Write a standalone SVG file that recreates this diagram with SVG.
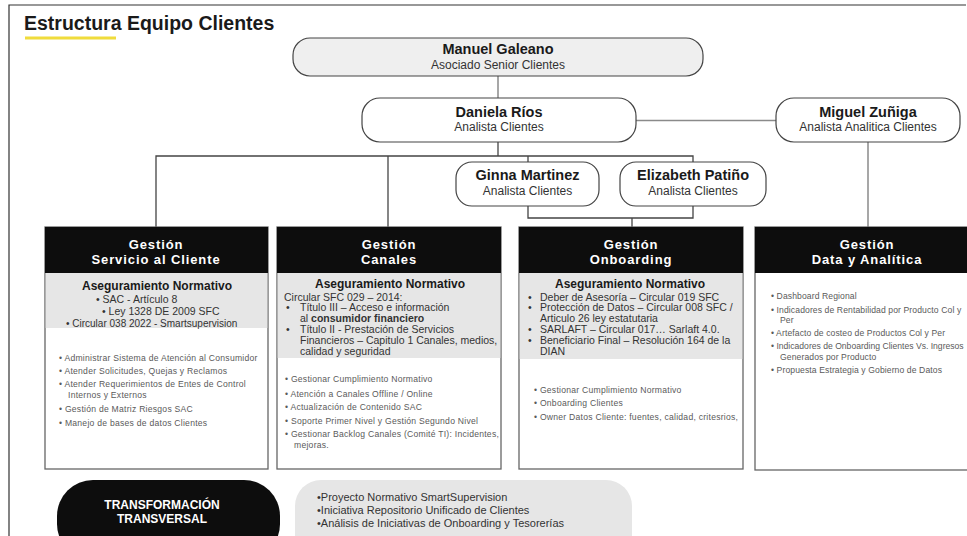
<svg xmlns="http://www.w3.org/2000/svg" width="967" height="536" viewBox="0 0 967 536">
<style>
text{font-family:"Liberation Sans",Arial,sans-serif;}
.frame{fill:none;stroke:#333;stroke-width:1.2}
.title{font-size:19.5px;font-weight:bold;fill:#1a1a1a}
.pill{fill:#fff;stroke:#444;stroke-width:1.2}
.pillg{fill:#efefef;stroke:#444;stroke-width:1.2}
.nm{font-size:14.5px;font-weight:bold;fill:#1a1a1a;text-anchor:middle}
.rl{font-size:12px;fill:#333;text-anchor:middle}
.conn{fill:none;stroke:#444;stroke-width:1.3}
.conng{fill:none;stroke:#8a8a8a;stroke-width:1.5}
.box{fill:#fff;stroke:#666;stroke-width:1.3}
.hdr{fill:#0d0d0d}
.gray{fill:#e6e6e6}
.ht{font-size:13px;font-weight:bold;fill:#fff;text-anchor:middle;letter-spacing:0.9px}
.an{font-size:12px;font-weight:bold;fill:#1a1a1a;text-anchor:middle}
.gt{font-size:10.5px;fill:#333}
.bt{font-size:8.6px;fill:#5a5a5a;letter-spacing:0.25px}
.bt4{font-size:8.6px;fill:#5a5a5a;letter-spacing:0.1px}
.tt{font-size:12px;font-weight:bold;fill:#fff;text-anchor:middle}
.pt{font-size:11px;fill:#333}
</style>
<path class="frame" d="M9,536 V5 H966"/>
<text class="title" x="24" y="30">Estructura Equipo Clientes</text>
<rect x="25" y="36.5" width="91" height="3" fill="#f0dc3c"/>

<g id="connectors">
<path class="conng" d="M498,76 V98"/>
<path class="conng" d="M636,120.5 H776"/>
<path class="conng" d="M868,142 V228"/>
<path class="conn" d="M498,142 V156"/>
<path class="conn" d="M156,228 V156 H693 V162"/>
<path class="conn" d="M388,156 V227"/>
<path class="conn" d="M528,156 V162"/>
<path class="conn" d="M528,206 V218 H693 V206"/>
<path class="conn" d="M632,218 V227"/>
</g>

<g id="manuel">
<rect class="pillg" x="293" y="38" width="410" height="38" rx="17"/>
<text class="nm" x="498" y="53.5">Manuel Galeano</text>
<text class="rl" x="498" y="69">Asociado Senior Clientes</text>
</g>
<g id="daniela">
<rect class="pill" x="362" y="98" width="274" height="44" rx="18"/>
<text class="nm" x="499" y="117">Daniela Ríos</text>
<text class="rl" x="499" y="131">Analista Clientes</text>
</g>
<g id="miguel">
<rect class="pill" x="776" y="98" width="184" height="44" rx="18"/>
<text class="nm" x="868" y="117">Miguel Zuñiga</text>
<text class="rl" x="868" y="131">Analista Analitica Clientes</text>
</g>
<g id="ginna">
<rect class="pill" x="456" y="162" width="143" height="44" rx="16"/>
<text class="nm" x="527.5" y="180">Ginna Martinez</text>
<text class="rl" x="527.5" y="195">Analista Clientes</text>
</g>
<g id="elizabeth">
<rect class="pill" x="620" y="162" width="146" height="44" rx="16"/>
<text class="nm" x="693" y="180">Elizabeth Patiño</text>
<text class="rl" x="693" y="195">Analista Clientes</text>
</g>

<g id="gestion-servicio">
<rect class="box" x="45" y="227" width="223" height="242"/>
<rect class="hdr" x="45" y="227" width="223" height="46"/>
<rect class="gray" x="45.7" y="273" width="221.6" height="55"/>
<text class="ht" x="156" y="249">Gestión</text>
<text class="ht" x="156" y="264">Servicio al Cliente</text>
<text class="an" x="157" y="290">Aseguramiento  Normativo</text>
<text class="gt" x="96" y="303">•   SAC - Artículo 8</text>
<text class="gt" x="102" y="315">•   Ley 1328 DE 2009 SFC</text>
<text class="gt" x="66" y="326.5" style="font-size:10px">•   Circular 038 2022 - Smartsupervision</text>
<text class="bt" x="59" y="361">•  Administrar Sistema de Atención al Consumidor</text>
<text class="bt" x="59" y="374">•  Atender Solicitudes, Quejas y Reclamos</text>
<text class="bt" x="59" y="387">•  Atender Requerimientos de Entes de Control</text>
<text class="bt" x="68" y="398">Internos y Externos</text>
<text class="bt" x="59" y="412">•  Gestión de Matriz Riesgos SAC</text>
<text class="bt" x="59" y="426">•  Manejo de bases de datos Clientes</text>
</g>

<g id="gestion-canales">
<rect class="box" x="277" y="227" width="224" height="242"/>
<rect class="hdr" x="277" y="227" width="224" height="46"/>
<rect class="gray" x="277.7" y="273" width="222.6" height="85"/>
<text class="ht" x="389" y="249">Gestión</text>
<text class="ht" x="389" y="264">Canales</text>
<text class="an" x="390" y="288">Aseguramiento  Normativo</text>
<text class="gt" x="284" y="300.5">Circular SFC 029 – 2014:</text>
<text class="gt" x="286" y="311">•</text>
<text class="gt" x="300" y="311">Título III – Acceso e información</text>
<text class="gt" x="300" y="322">al <tspan font-weight="bold">consumidor financiero</tspan></text>
<text class="gt" x="286" y="333">•</text>
<text class="gt" x="300" y="333">Título II  - Prestación de Servicios</text>
<text class="gt" x="300" y="344">Financieros – Capitulo 1 Canales, medios,</text>
<text class="gt" x="300" y="355">calidad y seguridad</text>
<text class="bt" x="285" y="382">•  Gestionar Cumplimiento Normativo</text>
<text class="bt" x="285" y="397">•  Atención a Canales Offline / Online</text>
<text class="bt" x="285" y="410">•  Actualización de Contenido SAC</text>
<text class="bt" x="285" y="424">•  Soporte Primer Nivel y Gestión Segundo Nivel</text>
<text class="bt" x="285" y="437">•  Gestionar Backlog Canales (Comité TI): Incidentes,</text>
<text class="bt" x="294" y="448">mejoras.</text>
</g>

<g id="gestion-onboarding">
<rect class="box" x="519" y="227" width="224" height="242"/>
<rect class="hdr" x="519" y="227" width="224" height="46"/>
<rect class="gray" x="519.7" y="273" width="222.6" height="86"/>
<text class="ht" x="631" y="249">Gestión</text>
<text class="ht" x="631" y="264">Onboarding</text>
<text class="an" x="630" y="288">Aseguramiento  Normativo</text>
<text class="gt" x="528" y="300.5">•</text>
<text class="gt" x="540" y="300.5">Deber de Asesoría –  Circular 019 SFC</text>
<text class="gt" x="528" y="311">•</text>
<text class="gt" x="540" y="311">Protección de Datos – Circular 008 SFC /</text>
<text class="gt" x="540" y="322">Articulo 26 ley estatutaria</text>
<text class="gt" x="528" y="333">•</text>
<text class="gt" x="540" y="333">SARLAFT – Circular 017… Sarlaft 4.0.</text>
<text class="gt" x="528" y="344">•</text>
<text class="gt" x="540" y="344">Beneficiario Final – Resolución 164 de la</text>
<text class="gt" x="540" y="355">DIAN</text>
<text class="bt" x="534" y="393">•  Gestionar Cumplimiento Normativo</text>
<text class="bt" x="534" y="406">•  Onboarding Clientes</text>
<text class="bt" x="534" y="420">•  Owner Datos Cliente:  fuentes, calidad, critesrios,</text>
</g>

<g id="gestion-data">
<rect class="box" x="755" y="227" width="224" height="243"/>
<rect class="hdr" x="755" y="227" width="224" height="46"/>
<text class="ht" x="867" y="249">Gestión</text>
<text class="ht" x="867" y="264">Data y Analítica</text>
<text class="bt4" x="771" y="299">•  Dashboard Regional</text>
<text class="bt4" x="771" y="313">•  Indicadores de Rentabilidad por Producto Col y</text>
<text class="bt4" x="780" y="323">Per</text>
<text class="bt4" x="771" y="336">•  Artefacto de costeo de Productos Col y Per</text>
<text class="bt4" x="771" y="349" style="letter-spacing:0">•  Indicadores de Onboarding Clientes Vs. Ingresos</text>
<text class="bt4" x="780" y="360">Generados  por Producto</text>
<text class="bt4" x="771" y="373">•  Propuesta Estrategia y Gobierno de Datos</text>
</g>

<g id="transformacion">
<rect x="57" y="480" width="223" height="80" rx="36" fill="#0d0d0d"/>
<text class="tt" x="162" y="509">TRANSFORMACIÓN</text>
<text class="tt" x="162" y="523">TRANSVERSAL</text>
</g>
<g id="iniciativas">
<rect x="295" y="480" width="337" height="80" rx="26" fill="#e6e6e6"/>
<text class="pt" x="317" y="501">•Proyecto Normativo SmartSupervision</text>
<text class="pt" x="317" y="514">•Iniciativa Repositorio Unificado de Clientes</text>
<text class="pt" x="317" y="527">•Análisis de Iniciativas de Onboarding y Tesorerías</text>
</g>
</svg>
